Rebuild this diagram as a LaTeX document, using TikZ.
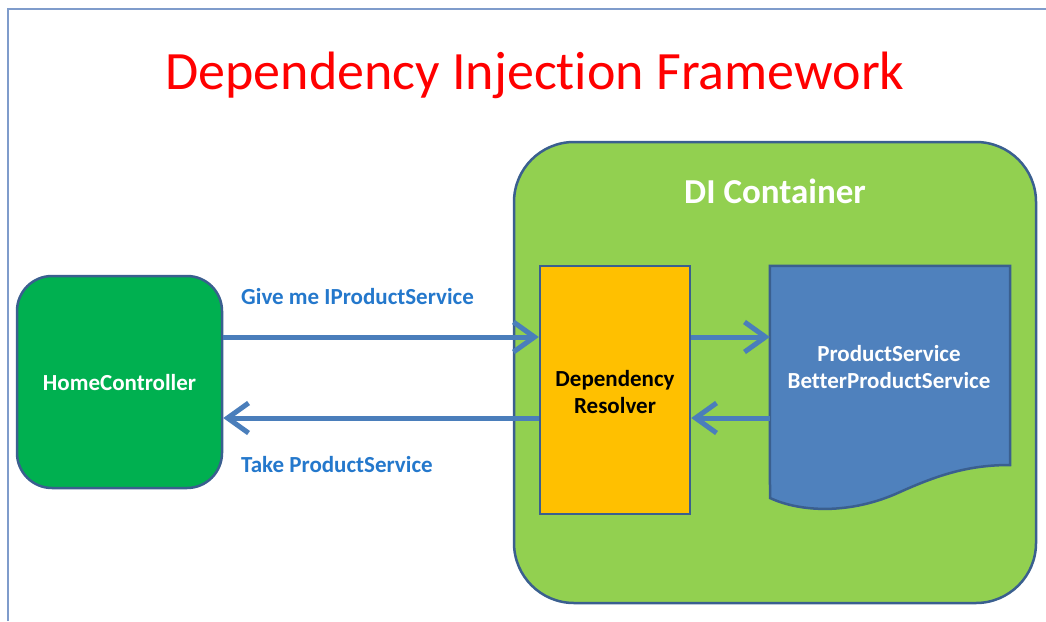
\documentclass[tikz,border=0pt]{standalone}
\usepackage{fontspec}
\setmainfont{Carlito}[Ligatures=NoCommon]
\usetikzlibrary{arrows.meta}
\definecolor{contgreen}{HTML}{92D050}
\definecolor{hcgreen}{HTML}{00B050}
\definecolor{drorange}{HTML}{FFC000}
\definecolor{psblue}{HTML}{4F81BD}
\definecolor{edgeblue}{HTML}{3A5F8F}
\definecolor{arrowblue}{HTML}{4A7EBB}
\definecolor{labelblue}{HTML}{2478CC}
\definecolor{framecol}{HTML}{7F9CCB}
\tikzset{
  shapebox/.style={draw=edgeblue, line width=2.5pt, inner sep=0pt},
  arr/.style={draw=arrowblue, line width=5pt, -{Straight Barb[length=21pt, width=30pt]}},
  lbl/.style={text=labelblue, font=\bfseries\fontsize{23}{27}\selectfont, anchor=west, inner sep=0pt},
  intext/.style={font=\bfseries\fontsize{23}{27}\selectfont, align=center, inner sep=0pt}
}
\begin{document}
\begin{tikzpicture}[x=1pt,y=-1pt]
\useasboundingbox (0,0) rectangle (1046,621);
\fill[white] (0,0) rectangle (1046,621);
\draw[framecol, line width=2pt] (7.5,621) -- (7.5,8.5) -- (1046,8.5);

\node[text=red, font=\fontsize{54}{60}\selectfont, inner sep=0pt] (title) at (535,75) {Dependency Injection Framework};

\node[shapebox, fill=contgreen, rounded corners=60pt, minimum width=522pt, minimum height=461pt] (dic) at (775,372.5) {};
\node[text=white, font=\bfseries\fontsize{35}{40}\selectfont, inner sep=0pt] (dil) at (775,191) {DI Container};

\node[shapebox, fill=hcgreen, rounded corners=35pt, minimum width=205pt, minimum height=212pt] (hc) at (119.5,382) {};
\node[intext, text=white] (hct) at (119.5,383) {HomeController};

\node[shapebox, fill=drorange, minimum width=150pt, minimum height=248pt] (dr) at (615,390) {};
\node[intext, text=black] (drt) at (615,392) {Dependency\\Resolver};

\node[minimum width=240pt, minimum height=200pt, inner sep=0pt] (ps) at (890,366) {};
\draw[shapebox, fill=psblue] (ps.north west) -- (ps.north east) -- (1010,465)
  .. controls (970,465) and (940,474) .. (900,492)
  .. controls (850,515) and (800,512) .. (770,498) -- cycle;
\node[intext, text=white] (pst) at (889,367) {ProductService\\BetterProductService};

\coordinate (r1) at (0,337);
\coordinate (r2) at (0,418);
\draw[arr] (hc.east |- r1) -- (dr.west |- r1);
\draw[arr] (dr.west |- r2) -- (hc.east |- r2);
\draw[arr] (dr.east |- r1) -- (ps.west |- r1);
\draw[arr] (ps.west |- r2) -- (dr.east |- r2);

\node[lbl] (l1) at (241,297) {Give me IProductService};
\node[lbl] (l2) at (241,465) {Take ProductService};
\end{tikzpicture}
\end{document}
